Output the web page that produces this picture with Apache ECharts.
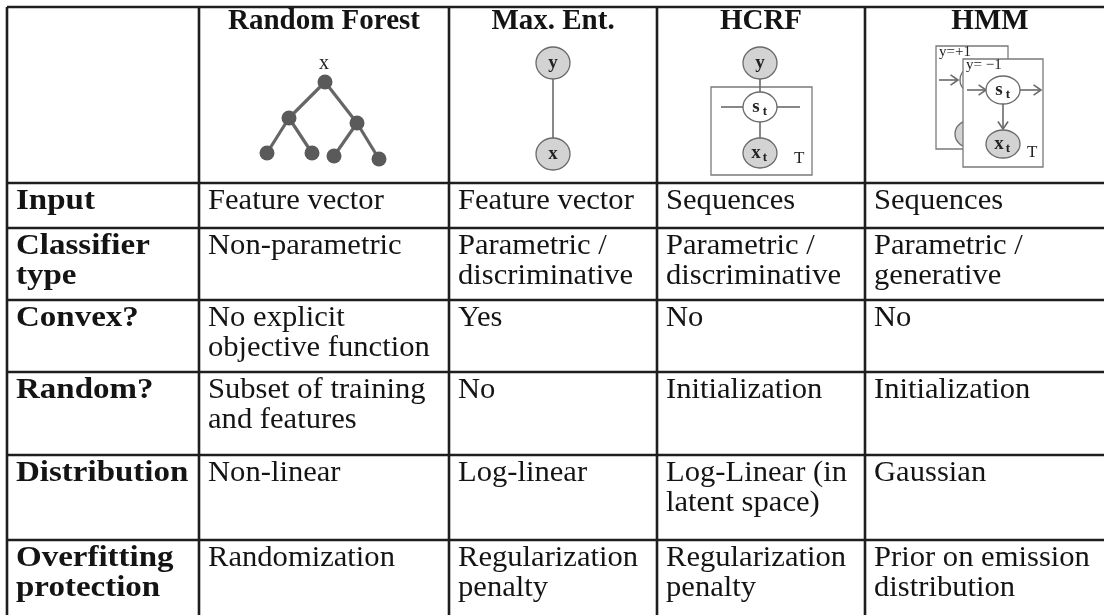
<!DOCTYPE html>
<html><head><meta charset="utf-8">
<script src="https://cdn.jsdelivr.net/npm/echarts@6/dist/echarts.min.js"></script>
<style>html,body{margin:0;padding:0;background:#fff;overflow:hidden}#c{width:1104px;height:615px}</style>
</head><body><div id="c"></div>
<script>
// ---- table content ----
const headers = ['', 'Random Forest', 'Max. Ent.', 'HCRF', 'HMM'];
const rowLabels = ['Input', 'Classifier\ntype', 'Convex?', 'Random?', 'Distribution', 'Overfitting\nprotection'];
const randomForest = ['Feature vector', 'Non-parametric', 'No explicit\nobjective function', 'Subset of training\nand features', 'Non-linear', 'Randomization'];
const maxEnt = ['Feature vector', 'Parametric /\ndiscriminative', 'Yes', 'No', 'Log-linear', 'Regularization\npenalty'];
const hcrf = ['Sequences', 'Parametric /\ndiscriminative', 'No', 'Initialization', 'Log-Linear (in\nlatent space)', 'Regularization\npenalty'];
const hmm = ['Sequences', 'Parametric /\ngenerative', 'No', 'Initialization', 'Gaussian', 'Prior on emission\ndistribution'];
const hmmLabels = ['y=+1', 'y= \u22121'];

// ---- layout (pixel units of the hidden axes) ----
const W = 1104, H = 615;
const colEdges = [7, 199, 449, 657, 865, 1130];
const rowEdges = [7, 183, 228, 300, 372, 455, 540, 660];
const SERIF = '"Liberation Serif", "DejaVu Serif", serif';
const BODY = '30px ' + SERIF;
const BOLD = 'bold 30px ' + SERIF;
const HEAD = 'bold 29px ' + SERIF;
const LH = 30;
const LINE = '#1e1e1e';

const columnsData = [rowLabels, randomForest, maxEnt, hcrf, hmm];
const cells = [];
for (let c = 0; c < columnsData.length; c++) {
  for (let r = 0; r < rowLabels.length; r++) {
    cells.push({ value: [c, r], text: columnsData[c][r] });
  }
}
const headCells = headers.map((h, c) => ({ value: [c, 0], text: h }));

function C(api, x, y) { return api.coord([x, y]); }

function renderCell(params, api) {
  const d = cells[params.dataIndex];
  const c = d.value[0], r = d.value[1];
  const p = C(api, colEdges[c] + 9, rowEdges[r + 1] + 3);
  return {
    type: 'text', x: p[0], y: p[1], scaleX: c === 0 ? 1.1 : 1.02,
    style: { text: d.text, font: c === 0 ? BOLD : BODY, fill: '#141414', lineHeight: LH, verticalAlign: 'top', align: 'left' }
  };
}
function renderHead(params, api) {
  const d = headCells[params.dataIndex];
  const c = d.value[0];
  const p = C(api, (colEdges[c] + Math.min(colEdges[c + 1], 1115)) / 2, 7);
  return {
    type: 'text', x: p[0], y: p[1],
    style: { text: d.text, font: HEAD, fill: '#141414', verticalAlign: 'top', align: 'center' }
  };
}
function renderGrid(params, api) {
  const ch = [];
  const top = rowEdges[0], bot = rowEdges[rowEdges.length - 1];
  colEdges.forEach(x => {
    const a = C(api, x, top), b = C(api, x, bot);
    ch.push({ type: 'line', shape: { x1: a[0], y1: a[1], x2: b[0], y2: b[1] }, style: { stroke: LINE, lineWidth: 2.6 } });
  });
  rowEdges.forEach(y => {
    const a = C(api, colEdges[0], y), b = C(api, colEdges[colEdges.length - 1], y);
    ch.push({ type: 'line', shape: { x1: a[0], y1: a[1], x2: b[0], y2: b[1] }, style: { stroke: LINE, lineWidth: 2.6 } });
  });
  return { type: 'group', children: ch };
}

// diagram helpers
function line(api, x1, y1, x2, y2, stroke, lw) {
  const a = C(api, x1, y1), b = C(api, x2, y2);
  return { type: 'line', shape: { x1: a[0], y1: a[1], x2: b[0], y2: b[1] }, style: { stroke: stroke || '#6a6a6a', lineWidth: lw || 1.6 } };
}
function arrow(api, x1, y1, x2, y2) {
  const a = C(api, x1, y1), b = C(api, x2, y2);
  const ang = Math.atan2(b[1] - a[1], b[0] - a[0]), L = 9, s = 0.6;
  return { type: 'group', children: [
    { type: 'line', shape: { x1: a[0], y1: a[1], x2: b[0], y2: b[1] }, style: { stroke: '#6a6a6a', lineWidth: 1.6 } },
    { type: 'polyline', shape: { points: [
      [b[0] - L * Math.cos(ang - s), b[1] - L * Math.sin(ang - s)], b,
      [b[0] - L * Math.cos(ang + s), b[1] - L * Math.sin(ang + s)]] }, style: { stroke: '#6a6a6a', lineWidth: 1.6, fill: null } }
  ] };
}
function node(api, x, y, rx, ry, fill, label, sub) {
  const p = C(api, x, y);
  const ch = [{ type: 'ellipse', shape: { cx: p[0], cy: p[1], rx: rx, ry: ry }, style: { fill: fill, stroke: '#6a6a6a', lineWidth: 1.3 } }];
  if (label) {
    ch.push({ type: 'text', x: p[0] - (sub ? 4 : 0), y: p[1], style: { text: label, font: 'bold 19px ' + SERIF, fill: '#222', align: 'center', verticalAlign: 'middle' } });
    if (sub) ch.push({ type: 'text', x: p[0] + 5, y: p[1] + 5, style: { text: sub, font: 'bold 13px ' + SERIF, fill: '#222', align: 'center', verticalAlign: 'middle' } });
  }
  return { type: 'group', children: ch };
}
function rect(api, x1, y1, x2, y2) {
  const a = C(api, x1, y1), b = C(api, x2, y2);
  return { type: 'rect', shape: { x: a[0], y: a[1], width: b[0] - a[0], height: b[1] - a[1] }, style: { fill: '#fff', stroke: '#7a7a7a', lineWidth: 1.3 } };
}
function label(api, x, y, t, size) {
  const p = C(api, x, y);
  return { type: 'text', x: p[0], y: p[1], style: { text: t, font: size + 'px ' + SERIF, fill: '#222', align: 'left', verticalAlign: 'top' } };
}

function renderDiagrams(params, api) {
  const ch = [];
  // Random forest tree
  const tn = [[325, 82], [289, 118], [357, 123], [267, 153], [312, 153], [334, 156], [379, 159]];
  const te = [[0, 1], [0, 2], [1, 3], [1, 4], [2, 5], [2, 6]];
  te.forEach(e => ch.push(line(api, tn[e[0]][0], tn[e[0]][1], tn[e[1]][0], tn[e[1]][1], '#666', 3.2)));
  tn.forEach(n => { const p = C(api, n[0], n[1]); ch.push({ type: 'circle', shape: { cx: p[0], cy: p[1], r: 7.5 }, style: { fill: '#5a5a5a' } }); });
  ch.push(label(api, 319, 54, 'x', 20));
  // Max. Ent.
  ch.push(line(api, 553, 79, 553, 138));
  ch.push(node(api, 553, 63, 17, 16, '#d3d3d3', 'y'));
  ch.push(node(api, 553, 154, 17, 16, '#d3d3d3', 'x'));
  // HCRF
  const rr = rect(api, 711, 87, 812, 175); rr.style.fill = null; ch.push(rr);
  ch.push(line(api, 760, 79, 760, 92));
  ch.push(line(api, 721, 107, 743, 107));
  ch.push(line(api, 777, 107, 800, 107));
  ch.push(line(api, 760, 122, 760, 138));
  ch.push(node(api, 760, 63, 17, 16, '#d3d3d3', 'y'));
  ch.push(node(api, 760, 107, 17, 15, '#fff', 's', 't'));
  ch.push(node(api, 760, 153, 17, 15, '#d3d3d3', 'x', 't'));
  ch.push(label(api, 794, 150, 'T', 17));
  // HMM back plate
  ch.push(rect(api, 936, 46, 1008, 149));
  ch.push(label(api, 939, 45, hmmLabels[0], 15));
  ch.push(arrow(api, 939, 80, 958, 80));
  ch.push(node(api, 976, 80, 16, 14, '#fff'));
  ch.push(node(api, 971, 134, 16, 14, '#d3d3d3'));
  // HMM front plate
  ch.push(rect(api, 963, 59, 1043, 167));
  ch.push(label(api, 966, 58, hmmLabels[1], 15));
  ch.push(arrow(api, 967, 90, 986, 90));
  ch.push(arrow(api, 1020, 90, 1041, 90));
  ch.push(arrow(api, 1003, 104, 1003, 129));
  ch.push(node(api, 1003, 90, 17, 14, '#fff', 's', 't'));
  ch.push(node(api, 1003, 144, 17, 14, '#d3d3d3', 'x', 't'));
  ch.push(label(api, 1027, 144, 'T', 17));
  // cut caption descender at the very top
  const cp = C(api, 447, -2);
  ch.push({ type: 'text', x: cp[0], y: cp[1], style: { text: 'y', font: '26px ' + SERIF, fill: '#222', verticalAlign: 'bottom' } });
  return { type: 'group', children: ch };
}

const chart = echarts.init(document.getElementById('c'), null, { renderer: 'canvas' });
chart.setOption({
  animation: false,
  backgroundColor: '#fff',
  grid: { left: 0, right: 0, top: 0, bottom: 0 },
  xAxis: { type: 'value', min: 0, max: W, show: false },
  yAxis: { type: 'value', min: 0, max: H, inverse: true, show: false },
  series: [
    { type: 'custom', renderItem: renderGrid, data: [[0, 0]], clip: false, silent: true },
    { type: 'custom', renderItem: renderHead, data: headCells.map(d => d.value), clip: false, silent: true },
    { type: 'custom', renderItem: renderCell, data: cells.map(d => d.value), clip: false, silent: true },
    { type: 'custom', renderItem: renderDiagrams, data: [[0, 0]], clip: false, silent: true }
  ]
});
</script></body></html>
